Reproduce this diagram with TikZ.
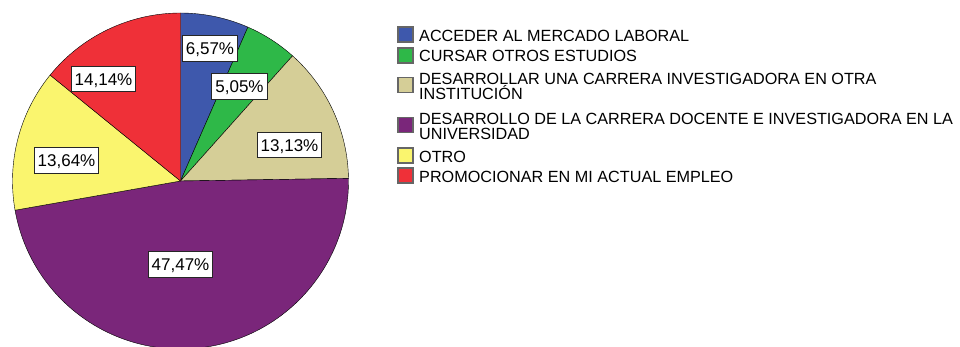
\documentclass[tikz,border=0pt]{standalone}
\usepackage{fontspec}
\setmainfont{Liberation Sans}
\usepackage{xcolor}
\usepackage{tikz}

\definecolor{accblue}{RGB}{62,88,172}
\definecolor{curgreen}{RGB}{46,184,72}
\definecolor{insttan}{RGB}{213,206,151}
\definecolor{univpurple}{RGB}{122,38,122}
\definecolor{otroyellow}{RGB}{250,245,110}
\definecolor{promred}{RGB}{239,48,56}

\begin{document}
\begin{tikzpicture}[x=1pt, y=1pt,
    pct/.style={draw=black!85, line width=1pt, fill=white, font=\fontsize{17}{17}\selectfont,
                inner xsep=3.5pt, inner ysep=6.5pt, text height=12.2pt, text depth=0pt},
    swatch/.style={draw=black!60, line width=1.2pt, minimum size=15pt, inner sep=0pt},
    legtext/.style={font=\fontsize{16.2}{15}\selectfont, inner sep=0pt, align=left, anchor=north west}]
                \useasboundingbox (0, 0) rectangle (960, 346);
                \coordinate (O) at (180.5, 165); % centre of the pie

                % Slices, clockwise from the top
                \draw[fill=accblue] (O) -- ++(90:168) arc (90:66.348:168) -- cycle; % 6,57
                \draw[fill=curgreen] (O) -- ++(66.348:168) arc (66.348:48.168:168) -- cycle; % 5,05
                \draw[fill=insttan] (O) -- ++(48.168:168) arc (48.168:0.9:168) -- cycle; % 13,13
                \draw[fill=univpurple] (O) -- ++(0.9:168) arc (0.9:-169.992:168) -- cycle; % 47,47
                \draw[fill=otroyellow] (O) -- ++(-169.992:168) arc (-169.992:-219.096:168) -- cycle; % 13,64
                \draw[fill=promred] (O) -- ++(-219.096:168) arc (-219.096:-270:168) -- cycle; % 14,14

                % Percent labels
                \node[pct] (acc) at (210, 297.5) {6,57\%};
                \node[pct] (cur) at (239.5, 259.5) {5,05\%};
                \node[pct] (inst) at (289.5, 201) {13,13\%};
                \node[pct] (univ) at (180.5, 81.5) {47,47\%};
                \node[pct] (otro) at (66.5, 185.5) {13,64\%};
                \node[pct] (prom) at (103.5, 267) {14,14\%};

                % Legend
                \node[swatch, fill=accblue] (swAcc) at (405.5, 311.5) {};
                \node[legtext] (legAcc) at (419, 315.6) {ACCEDER AL MERCADO LABORAL};
                \node[swatch, fill=curgreen] (swCur) at (405.5, 290.5) {};
                \node[legtext] (legCur) at (419, 295.6) {CURSAR OTROS ESTUDIOS};
                \node[swatch, fill=insttan] (swInst) at (405.5, 261) {};
                \node[legtext] (legInst) at (419, 272.6) {DESARROLLAR UNA CARRERA INVESTIGADORA EN OTRA\\INSTITUCIÓN};
                \node[swatch, fill=univpurple] (swUniv) at (405.5, 221) {};
                \node[legtext] (legUniv) at (419, 232.6) {DESARROLLO DE LA CARRERA DOCENTE E INVESTIGADORA EN LA\\UNIVERSIDAD};
                \node[swatch, fill=otroyellow] (swOtro) at (405.5, 190.5) {};
                \node[legtext] (legOtro) at (419, 194.6) {OTRO};
                \node[swatch, fill=promred] (swProm) at (405.5, 170.5) {};
                \node[legtext] (legProm) at (419, 174.6) {PROMOCIONAR EN MI ACTUAL EMPLEO};
            \end{tikzpicture}
\end{document}
